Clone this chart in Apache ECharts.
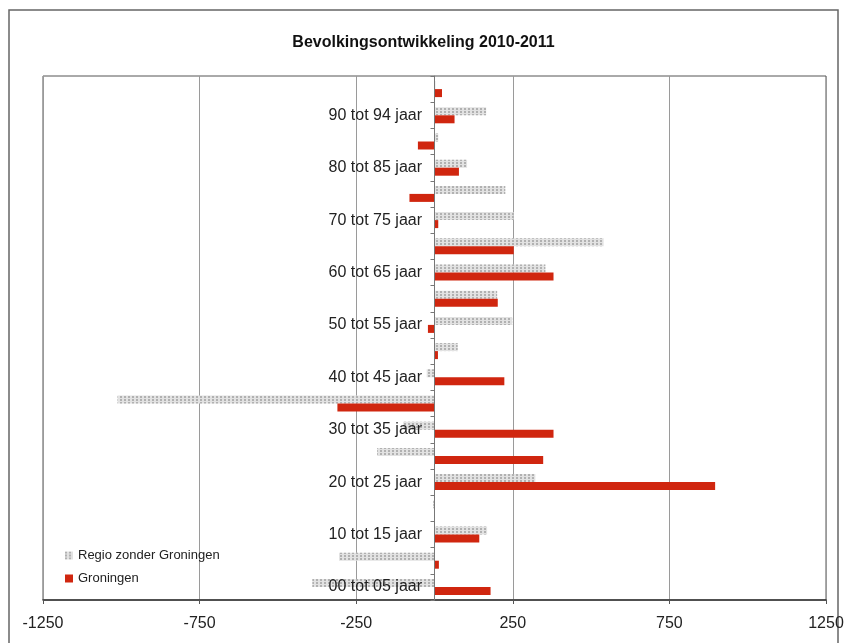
<!DOCTYPE html>
<html>
<head>
<meta charset="utf-8">
<script src="https://cdn.jsdelivr.net/npm/echarts@6/dist/echarts.min.js"></script>
<style>
	html, body { margin: 0; padding: 0; background: #fff; }
	#chart { width: 847px; height: 643px; }
</style>
</head>
<body>
<div id="chart"></div>
<script>
// leeftijdsgroepen, van onder naar boven
var categories = ['00 tot 05 jaar', '05 tot 10 jaar', '10 tot 15 jaar', '15 tot 20 jaar', '20 tot 25 jaar',
	'25 tot 30 jaar', '30 tot 35 jaar', '35 tot 40 jaar', '40 tot 45 jaar', '45 tot 50 jaar',
	'50 tot 55 jaar', '55 tot 60 jaar', '60 tot 65 jaar', '65 tot 70 jaar', '70 tot 75 jaar',
	'75 tot 80 jaar', '80 tot 85 jaar', '85 tot 90 jaar', '90 tot 94 jaar', '95 jaar e.o.'];
var seriesNames = ['Regio zonder Groningen', 'Groningen'];
var regio = [-390, -305, 168, -4, 322, -183, -100, -1012, -25, 74, 248, 200, 354, 540, 253, 226, 104, 12, 165, 3];
var groningen = [179, 14, 143, 0, 896, 347, 380, -310, 223, 11, -21, 202, 380, 253, 12, -80, 78, -53, 64, 24];
var xTicks = { min: -1250, max: 1250, interval: 500 };

var fontName = 'Arial, "Liberation Sans", sans-serif';

var option = {
	backgroundColor: '#fff',
	animation: false,
	title: {
		text: 'Bevolkingsontwikkeling 2010-2011',
		left: 'center',
		top: 30,
		textStyle: { fontFamily: fontName, fontSize: 16, fontWeight: 'bold', color: '#111' }
	},
	legend: {
		orient: 'vertical',
		left: 60,
		top: 544,
		itemWidth: 8,
		itemHeight: 8,
		itemGap: 10,
		icon: 'rect',
		selectedMode: false,
		textStyle: { fontFamily: fontName, fontSize: 13, color: '#222' },
		data: seriesNames
	},
	graphic: [{
		type: 'rect',
		shape: { x: 9, y: 10, width: 829, height: 700 },
		style: { fill: 'none', stroke: '#666', lineWidth: 1.5 },
		silent: true
	}],
	grid: {
		left: 43,
		right: 21,
		top: 76,
		bottom: 43,
		containLabel: false,
		outerBoundsMode: 'none',
		show: true,
		borderColor: '#555',
		borderWidth: 1
	},
	xAxis: {
		type: 'value',
		min: xTicks.min,
		max: xTicks.max,
		interval: xTicks.interval,
		axisLine: { show: true, lineStyle: { color: '#333', width: 1.5 } },
		axisTick: { show: true, length: 4, lineStyle: { color: '#555' } },
		axisLabel: {
			fontFamily: fontName, fontSize: 16, color: '#222', margin: 16,
			formatter: function (v) { return String(v); }
		},
		splitLine: { show: true, lineStyle: { color: '#9a9a9a', width: 1 } }
	},
	yAxis: {
		type: 'category',
		data: categories,
		z: 5,
		axisLine: { show: true, onZero: true, lineStyle: { color: '#777' } },
		axisTick: { show: true, interval: 0, length: 4, lineStyle: { color: '#777' } },
		// labels staan links van de nul-as
		axisLabel: { interval: 1, fontFamily: fontName, fontSize: 16, color: '#222', margin: -379 },
		splitLine: { show: false }
	},
	series: [
		{
			name: seriesNames[0],
			type: 'bar',
			data: regio,
			barWidth: 8,
			barGap: '0%',
			itemStyle: {
				color: '#e2e2e2',
				decal: {
					symbol: 'rect',
					symbolSize: 1,
					color: 'rgba(160,160,160,0.75)',
					dashArrayX: [2, 2],
					dashArrayY: [2, 1],
					rotation: 0
				}
			}
		},
		{
			name: seriesNames[1],
			type: 'bar',
			data: groningen,
			barWidth: 8,
			barGap: '0%',
			itemStyle: { color: '#d0260f' }
		}
	]
};

var chart = echarts.init(document.getElementById('chart'));
chart.setOption(option);
</script>
</body>
</html>
